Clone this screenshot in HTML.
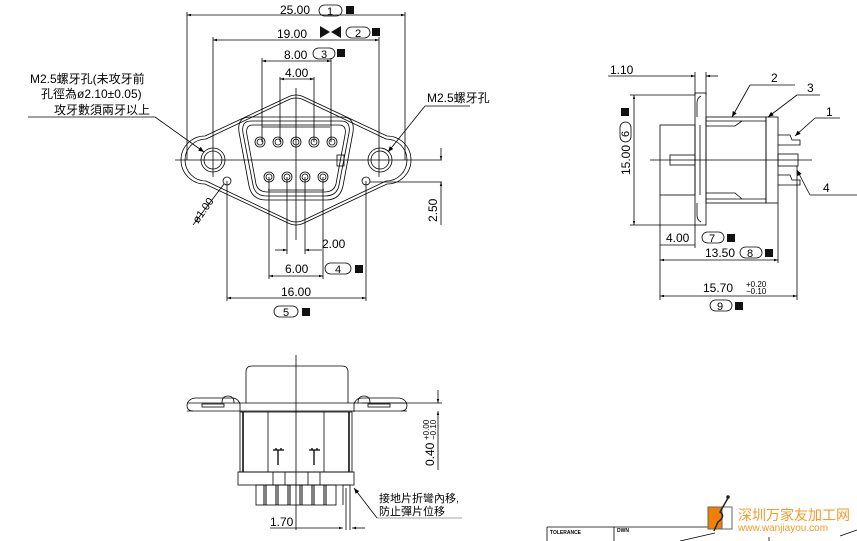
<!DOCTYPE html>
<html><head><meta charset="utf-8"><style>
html,body{margin:0;padding:0;background:#fff;}
svg{display:block;}
text{font-family:"Liberation Sans","Noto Sans CJK SC",sans-serif;fill:#000;}
.cj{font-family:"Liberation Serif","Noto Serif CJK SC","Noto Sans CJK SC",serif;}
</style></head><body>
<svg width="857" height="541" viewBox="0 0 857 541" xmlns="http://www.w3.org/2000/svg">
<defs>
<marker id="a" viewBox="0 0 10 10" refX="10" refY="5" markerWidth="7" markerHeight="5" orient="auto-start-reverse"><path d="M0,2 L10,5 L0,8 z" fill="#000"/></marker>
<marker id="b" viewBox="0 0 10 10" refX="10" refY="5" markerWidth="10" markerHeight="7" orient="auto"><path d="M0,1 L10,5 L0,9 z" fill="#000"/></marker>
</defs>
<g stroke="#000" stroke-width="0.8" fill="none">
<line x1="187" y1="15" x2="405" y2="15" marker-start="url(#a)" marker-end="url(#a)"/>
<line x1="187" y1="12" x2="187" y2="160"/><line x1="405" y1="12" x2="405" y2="160"/>
<line x1="213" y1="40" x2="379" y2="40" marker-start="url(#a)" marker-end="url(#a)"/>
<line x1="213" y1="37" x2="213" y2="177"/><line x1="379" y1="37" x2="379" y2="177"/>
<line x1="262" y1="61" x2="331" y2="61" marker-start="url(#a)" marker-end="url(#a)"/>
<line x1="262" y1="58" x2="262" y2="142"/><line x1="331" y1="58" x2="331" y2="142"/>
<line x1="280" y1="79" x2="314" y2="79" marker-start="url(#a)" marker-end="url(#a)"/>
<line x1="280" y1="77" x2="280" y2="142"/><line x1="314" y1="77" x2="314" y2="142"/>
<!-- flange outline -->
<path d="M205,136 L288,97 Q296,93 304,97 L387,136 A24,24 0 0 1 387,184 L304,223 Q296,227 288,223 L205,184 A24,24 0 0 1 205,136 Z"/>
<path d="M206,139 L288,100 Q296,96 304,100 L386,139 A21,21 0 0 1 386,181 L304,220 Q296,224 288,220 L206,181 A21,21 0 0 1 206,139 Z"/>
<!-- shell -->
<path d="M250,117 L342,117 Q355,117 353,132 L343,186 Q340,200 326,200 L266,200 Q252,200 249,186 L239,132 Q237,117 250,117 Z"/>
<path d="M251,121 L341,121 Q351,121 349,133 L339,185 Q337,196 325,196 L267,196 Q255,196 253,185 L243,133 Q241,121 251,121 Z"/>
<path d="M253,125 L339,125 Q347,125 345,135 L336,184 Q334,192 324,192 L268,192 Q258,192 256,184 L247,135 Q245,125 253,125 Z"/>
<line x1="262" y1="127" x2="330" y2="127"/><line x1="268" y1="190" x2="324" y2="190"/>
<rect x="337" y="155" width="7" height="11"/>
<g>
<circle cx="260" cy="142" r="5"/><circle cx="260" cy="142" r="3"/>
<circle cx="278" cy="142" r="5"/><circle cx="278" cy="142" r="3"/>
<circle cx="296" cy="142" r="5"/><circle cx="296" cy="142" r="3"/>
<circle cx="314" cy="142" r="5"/><circle cx="314" cy="142" r="3"/>
<circle cx="332" cy="142" r="5"/><circle cx="332" cy="142" r="3"/>
<circle cx="269" cy="177" r="5"/><circle cx="269" cy="177" r="3"/>
<circle cx="287" cy="177" r="5"/><circle cx="287" cy="177" r="3"/>
<circle cx="305" cy="177" r="5"/><circle cx="305" cy="177" r="3"/>
<circle cx="323" cy="177" r="5"/><circle cx="323" cy="177" r="3"/>
</g>
<circle cx="213" cy="160" r="12"/><circle cx="213" cy="160" r="9"/>
<circle cx="380" cy="160" r="12"/><circle cx="380" cy="160" r="9"/>
<circle cx="227" cy="181" r="4"/><circle cx="366" cy="181" r="4"/>
<line x1="175" y1="160" x2="442" y2="160"/>
<line x1="296" y1="88" x2="296" y2="240"/>
<line x1="370" y1="182" x2="442" y2="182"/>
<line x1="441" y1="148" x2="441" y2="160" marker-end="url(#a)"/>
<line x1="441" y1="225" x2="441" y2="182" marker-end="url(#a)"/>
<line x1="287" y1="177" x2="287" y2="254"/><line x1="305" y1="177" x2="305" y2="254"/>
<line x1="275" y1="250" x2="287" y2="250" marker-end="url(#a)"/>
<line x1="322" y1="250" x2="305" y2="250" marker-end="url(#a)"/>
<line x1="269" y1="177" x2="269" y2="279"/><line x1="323" y1="177" x2="323" y2="279"/>
<line x1="269" y1="276" x2="323" y2="276" marker-start="url(#a)" marker-end="url(#a)"/>
<line x1="227" y1="181" x2="227" y2="301"/><line x1="366" y1="181" x2="366" y2="301"/>
<line x1="227" y1="298" x2="366" y2="298" marker-start="url(#a)" marker-end="url(#a)"/>
<line x1="28" y1="117" x2="155" y2="117"/>
<line x1="155" y1="117" x2="204" y2="152" marker-end="url(#b)"/>
<line x1="425" y1="106" x2="470" y2="106"/>
<line x1="425" y1="106" x2="388" y2="152" marker-end="url(#b)"/>
<line x1="193" y1="225" x2="224" y2="184"/>
</g>
<g font-size="12">
<text x="280" y="14">25.00</text>
<text x="277" y="38">19.00</text>
<text x="284" y="59">8.00</text>
<text x="285" y="77">4.00</text>
<text x="322" y="248">2.00</text>
<text x="285" y="273">6.00</text>
<text x="281" y="296">16.00</text>
<text transform="translate(437,222) rotate(-90)">2.50</text>
<text transform="translate(198,224) rotate(-55)" font-size="11">ø1.00</text>
</g>
<g stroke="#000" stroke-width="0.8" fill="none">
<rect x="319" y="5" width="23" height="11" rx="5.5"/>
<rect x="346" y="27" width="24" height="11" rx="5.5"/>
<rect x="313" y="48" width="22" height="11" rx="5.5"/>
<rect x="325" y="263" width="26" height="11" rx="5.5"/>
<rect x="274" y="306" width="24" height="11" rx="5.5"/>
</g>
<g font-size="11">
<text x="327" y="15">1</text><text x="355" y="37">2</text><text x="321" y="58">3</text><text x="335" y="273">4</text><text x="283" y="316">5</text>
</g>
<g fill="#111">
<rect x="346" y="6" width="8" height="8"/><rect x="372" y="28" width="8" height="8"/><rect x="337" y="49" width="8" height="8"/>
<rect x="355" y="265" width="8" height="8"/><rect x="302" y="308" width="8" height="8"/>
<path d="M320,26 L330,32 L320,38 Z M341,26 L331,32 L341,38 Z"/>
</g>
<g class="cj" font-size="12">
<text x="30" y="83">M2.5螺牙孔(未攻牙前</text>
<text x="41" y="98">孔徑為ø2.10±0.05)</text>
<text x="54" y="114">攻牙數須兩牙以上</text>
<text x="427" y="102">M2.5螺牙孔</text>
</g>

<!-- SIDE VIEW -->
<g stroke="#000" stroke-width="0.8" fill="none">
<line x1="608" y1="76" x2="695" y2="76" marker-end="url(#a)"/>
<line x1="718" y1="76" x2="706" y2="76" marker-end="url(#a)"/>
<line x1="695" y1="72" x2="695" y2="95"/><line x1="706" y1="72" x2="706" y2="95"/>
<rect x="695" y="93" width="11" height="132"/>
<path d="M701,96 Q697,98 697,103 L697,117 M701,222 Q697,220 697,215 L697,203"/>
<line x1="700" y1="125" x2="700" y2="195"/>
<rect x="660" y="125" width="35" height="70"/>
<rect x="706" y="117" width="60" height="86"/>
<line x1="706" y1="121" x2="766" y2="121"/><line x1="706" y1="199" x2="766" y2="199"/>
<path d="M706,126 L735,126 L742,121 M706,193 L735,193 L742,199"/>
<rect x="766" y="117" width="12" height="86"/>
<path d="M778,135 L790,135 L792,140 L800,140 L800,145 L778,145 M778,175 L790,175 L792,180 L800,180 L800,185 L778,185"/>
<rect x="670" y="155" width="25" height="10"/>
<rect x="778" y="154" width="20" height="12"/>
<line x1="650" y1="160" x2="812" y2="160"/>
<line x1="630" y1="95" x2="695" y2="95"/><line x1="630" y1="225" x2="695" y2="225"/>
<line x1="634" y1="95" x2="634" y2="225" marker-start="url(#a)" marker-end="url(#a)"/>
<line x1="660" y1="195" x2="660" y2="300"/><line x1="695" y1="225" x2="695" y2="248"/>
<line x1="778" y1="203" x2="778" y2="263"/><line x1="797" y1="166" x2="797" y2="300"/>
<line x1="660" y1="245" x2="695" y2="245"/>
<line x1="660" y1="260" x2="778" y2="260" marker-start="url(#a)" marker-end="url(#a)"/>
<line x1="660" y1="296" x2="797" y2="296" marker-start="url(#a)" marker-end="url(#a)"/>
<line x1="750" y1="85" x2="795" y2="85"/><line x1="750" y1="85" x2="732" y2="117" marker-end="url(#b)"/>
<line x1="797" y1="95" x2="820" y2="95"/><line x1="797" y1="95" x2="768" y2="117" marker-end="url(#b)"/>
<line x1="815" y1="118" x2="840" y2="118"/><line x1="815" y1="118" x2="795" y2="136" marker-end="url(#b)"/>
<line x1="810" y1="195" x2="857" y2="195"/><line x1="810" y1="195" x2="797" y2="170" marker-end="url(#b)"/>
<rect x="620" y="122" width="11" height="20" rx="5.5"/>
<rect x="702" y="232" width="22" height="11" rx="5.5"/>
<rect x="740" y="247" width="22" height="11" rx="5.5"/>
<rect x="710" y="300" width="22" height="11" rx="5.5"/>
</g>
<g font-size="12">
<text x="610" y="74">1.10</text>
<text x="771" y="82">2</text><text x="807" y="92">3</text><text x="826" y="116">1</text><text x="823" y="192">4</text>
<text transform="translate(630,175) rotate(-90)">15.00</text>
<text transform="translate(629,137) rotate(-90)" font-size="11">6</text>
<text x="666" y="242">4.00</text>
<text x="705" y="257">13.50</text>
<text x="703" y="292">15.70</text>
<text x="746" y="287" font-size="8">+0.20</text><text x="746" y="294" font-size="8">−0.10</text>
<text x="709" y="242" font-size="11">7</text><text x="747" y="257" font-size="11">8</text><text x="717" y="310" font-size="11">9</text>
</g>
<g fill="#111">
<rect x="621" y="108" width="8" height="8"/><rect x="727" y="234" width="8" height="8"/>
<rect x="765" y="249" width="8" height="8"/><rect x="735" y="302" width="8" height="8"/>
</g>

<!-- BOTTOM VIEW -->
<g stroke="#000" stroke-width="0.8" fill="none">
<line x1="296" y1="355" x2="296" y2="530"/>
<path d="M246,403 L246,372 Q246,366 252,366 L342,366 Q348,366 348,372 L348,403"/>
<path d="M193,411 Q187,411 187,405 Q188,399 195,398 L232,398 Q238,398 240,404 L240,412 M401,411 Q407,411 407,405 Q406,399 399,398 L362,398 Q356,398 354,404 L354,412"/>
<line x1="187" y1="403" x2="407" y2="403"/><line x1="187" y1="411" x2="407" y2="411"/>
<rect x="202" y="404" width="22" height="3"/><rect x="368" y="404" width="22" height="3"/>
<path d="M222,403 Q222,396 228,396 Q234,396 234,403 M358,403 Q358,396 364,396 Q370,396 370,403"/>
<rect x="240" y="412" width="112" height="60"/>
<line x1="243" y1="412" x2="243" y2="472" stroke-width="1.5"/><line x1="349" y1="412" x2="349" y2="472" stroke-width="1.5"/>
<line x1="268" y1="412" x2="268" y2="472"/><line x1="324" y1="412" x2="324" y2="472"/>
<path d="M273,450 L284,450 M276,450 L276,448 M281,450 L281,448 M278,450 L278,465 M309,450 L320,450 M312,450 L312,448 M317,450 L317,448 M314,450 L314,465" stroke-width="1.3"/>
<rect x="238" y="472" width="116" height="13"/>
<line x1="273" y1="472" x2="273" y2="485"/><line x1="285" y1="472" x2="285" y2="485"/><line x1="308" y1="472" x2="308" y2="485"/><line x1="320" y1="472" x2="320" y2="485"/>
<rect x="256" y="485" width="80" height="20"/>
<path d="M264,485 L264,505 M266,485 L266,505 M276,485 L276,505 M278,485 L278,505 M288,485 L288,505 M290,485 L290,505 M300,485 L300,505 M302,485 L302,505 M312,485 L312,505 M314,485 L314,505 M324,485 L324,505 M326,485 L326,505" stroke-width="1"/>
<path d="M343,505 L343,485 L350,485 L350,530 M346,488 L346,530"/>
<line x1="270" y1="528" x2="343" y2="528" marker-end="url(#a)"/>
<line x1="365" y1="528" x2="352" y2="528" marker-end="url(#a)"/>
<line x1="362" y1="403" x2="442" y2="403"/>
<line x1="438" y1="390" x2="438" y2="403" marker-end="url(#a)"/>
<line x1="438" y1="470" x2="438" y2="411" marker-end="url(#a)"/>
<line x1="377" y1="518" x2="462" y2="518" stroke="#888"/>
<line x1="377" y1="518" x2="354" y2="488" marker-end="url(#b)"/>
</g>
<g font-size="12">
<text x="270" y="526">1.70</text>
<text transform="translate(434,466) rotate(-90)">0.40</text>
<text transform="translate(429,440) rotate(-90)" font-size="8">+0.00</text>
<text transform="translate(436,440) rotate(-90)" font-size="8">−0.10</text>
</g>
<g class="cj" font-size="11">
<text x="379" y="502">接地片折彎內移,</text>
<text x="379" y="515">防止彈片位移</text>
</g>

<g stroke="#000" stroke-width="0.8" fill="none">
<line x1="547" y1="527" x2="710" y2="527"/>
<line x1="547" y1="527" x2="547" y2="541"/><line x1="614" y1="527" x2="614" y2="541"/>
<line x1="680" y1="541" x2="715" y2="533"/><line x1="769" y1="537" x2="769" y2="541"/>
<line x1="840" y1="536" x2="857" y2="530"/>
</g>
<text x="550" y="534" font-size="5" font-weight="bold">TOLERANCE</text>
<text x="617" y="532" font-size="5" font-weight="bold">DWN</text>
<rect x="708" y="507" width="24" height="22" fill="#f08000" stroke="#666" stroke-width="1"/>
<rect x="722" y="507" width="10" height="22" fill="#fff" stroke="#666" stroke-width="1"/>
<path d="M728,498 L720,512 Q726,516 718,522 L714,531" stroke="#222" stroke-width="1.5" fill="none"/>
<circle cx="728" cy="497" r="1.8" fill="#222"/>
<text x="738" y="520" font-size="14" style="fill:#f59a2a" font-family="Noto Sans CJK SC,sans-serif">深圳万家友加工网</text>
<text x="738" y="531" font-size="10" style="fill:#f59a2a">www.wanjiayou.com</text>
</svg>
</body></html>
